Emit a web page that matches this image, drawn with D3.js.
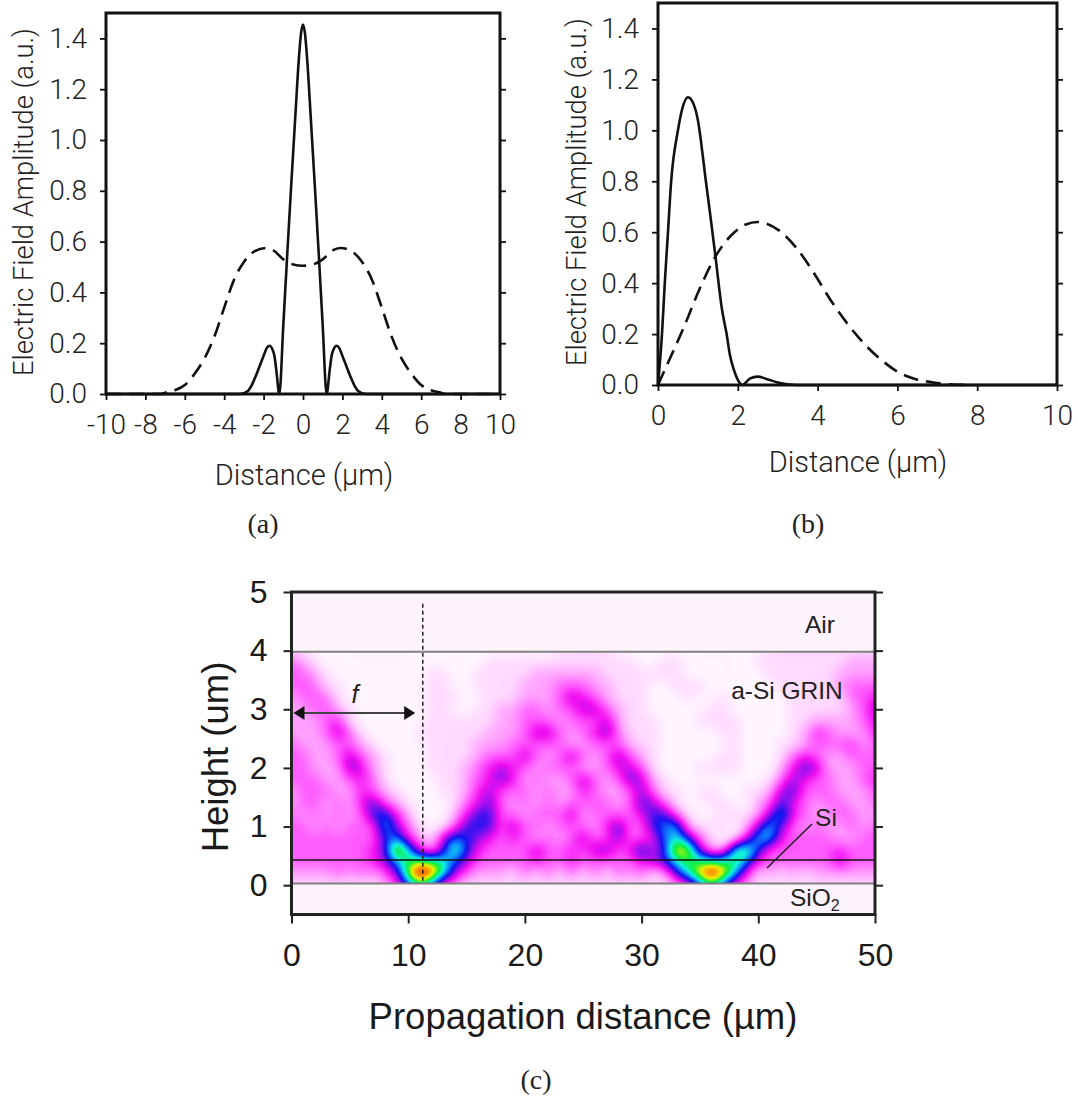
<!DOCTYPE html>
<html><head><meta charset="utf-8">
<script src="https://cdn.jsdelivr.net/npm/d3@7"></script>
<style>html,body{margin:0;background:#fff}svg{display:block}</style></head>
<body><div id="chart"></div>
<script>
// ---------- panel (a)
const aX =      [-10,-7.2,-7,-6.5,-6,-5.5,-5,-4.5,-4,-3.5,-3,-2.5,-1.9,-1.5,-1,-0.5,0,0.5,1,1.5,1.9,2.5,3,3.5,4,4.5,5,5.5,6,6.5,7,7.2,10];
const aDashed = [0,0,0.005,0.015,0.035,0.08,0.14,0.226,0.34,0.45,0.52,0.56,0.575,0.565,0.53,0.51,0.505,0.51,0.53,0.565,0.575,0.56,0.52,0.45,0.34,0.226,0.14,0.08,0.035,0.015,0.005,0,0];
const aSolidX = [-10,-3.2,-2.8,-2.6,-2.4,-2.2,-2,-1.85,-1.7,-1.55,-1.45,-1.35,-1.2,-1,-0.8,-0.6,-0.4,-0.2,-0.1,0,0.1,0.2,0.4,0.6,0.8,1,1.2,1.35,1.45,1.55,1.7,1.85,2,2.2,2.4,2.6,2.8,3.2,10];
const aSolid =  [0,0,0.012,0.035,0.07,0.11,0.15,0.18,0.19,0.175,0.15,0.09,0,0.27,0.55,0.82,1.08,1.33,1.42,1.455,1.42,1.33,1.08,0.82,0.55,0.27,0,0.09,0.15,0.175,0.19,0.18,0.15,0.11,0.07,0.035,0.012,0,0];
// ---------- panel (b)
const bDashedX = [0,0.2,0.63,1.05,1.44,1.83,2.2,2.5,3.03,3.46,3.89,4.32,4.75,5.18,5.6,6.03,6.46,6.9,7.3,7.8];
const bDashed =  [0,0.07,0.22,0.38,0.505,0.587,0.63,0.64,0.607,0.54,0.444,0.335,0.24,0.16,0.098,0.05,0.023,0.01,0.003,0];
const bSolidX = [0,0.1,0.17,0.25,0.33,0.5,0.6,0.75,0.9,1,1.04,1.2,1.3,1.44,1.6,1.72,1.8,1.9,2,2.12,2.2,2.3,2.5,2.7,3,3.3,3.6,10];
const bSolid =  [0,0.2,0.4,0.6,0.8,1,1.08,1.13,1.1,1.04,1,0.8,0.68,0.505,0.3,0.2,0.12,0.06,0.02,0,0.01,0.025,0.033,0.025,0.01,0.002,0,0];
const abYTicks = [0,0.2,0.4,0.6,0.8,1,1.2,1.4];
const aXTicks = [-10,-8,-6,-4,-2,0,2,4,6,8,10];
const bXTicks = [0,2,4,6,8,10];
// ---------- panel (c): intensity level per µm (columns) per 0.2 µm of height (rows, Y=4.0 down to 0)
const heatHeights = [4,3.8,3.6,3.4,3.2,3,2.8,2.6,2.4,2.2,2,1.8,1.6,1.4,1.2,1,0.8,0.6,0.4,0.2,0];
const heatLeft = [ // x = 0..16
[1,1,0,0,0,0,0,0,0,0,0,0,0,0,0,0,0],
[3,2,1,0,0,0,0,0,0,0,0,0,0,0,0,0,0],
[3,3,2,1,0,0,0,0,0,0,0,0,1,1,0,0,1],
[3,3,3,1,1,0,0,0,0,0,0,0,1,1,0,0,1],
[2,3,3,3,1,0,0,0,0,0,0,0,1,1,1,0,0],
[2,2,3,3,2,1,0,0,0,0,0,0,1,1,0,0,1],
[2,2,2,3,4,1,0,0,0,0,0,0,1,1,1,1,1],
[2,2,2,3,5,3,1,0,0,0,0,1,1,1,1,1,1],
[3,2,2,2,3,3,2,1,0,0,0,0,1,1,1,1,2],
[3,3,2,2,3,5,3,2,1,0,0,0,1,1,1,1,2],
[3,3,2,2,2,5.5,4.5,2,1,0,0,0,1,1,1,2,3],
[3,3,3,2,2,3,4,3,1,0,0,0,0,1,1,2,3],
[2,3,3,3,2,2,4,3,2,1,0,0,0,1,1,2,4],
[2,3,3,2,3,2,4,6,3,2,1,0,0,0,1,3,4],
[3,2,3,2,3,2,3,6,7,4,2,0,0,0,2,4,6],
[3,3,2,3,2,3,3,3,8,5,3,1,0,1,3,6,6],
[3,3,3,3,3,3,3,3,6,7,4,2,1,5,7,6,5],
[3,3,3,3,3,3,3,4,5,12,8,4,2,5,10,6,4],
[3,3,3,3,3,3,3,4,5,7,9,9.5,9.5,9,6,5,3],
[2,2,2,2,3,2,3,2,3,5,10,14,12,8.5,5,3,2],
[1,1,1,1,1,1,1,1,2,3,6,8,6,3,2,1,1]];
const heatMiddle = [ // x = 17..33
[0,0,0,0,0,0,1,1,1,1,1,0,0,0,0,0,0],
[1,1,1,1,1,1,1,1,1,1,1,1,1,0,0,1,1],
[1,1,1,1,2,2,2,2,2,2,1,1,1,1,1,1,1],
[1,1,1,2,2,2,3,3,3,2,2,1,1,1,0,0,1],
[1,1,1,2,2,2,3,5,4,3,2,1,1,1,0,0,0],
[1,2,2,3,3,2,3,3,5,5,3,2,1,1,0,0,0],
[1,2,2,3,3,3,2,3,3,3,5,2,1,1,1,0,0],
[2,2,2,3,5,5,3,2,3,4,5.5,3,1,1,1,0,0],
[2,2,3,3,3,3,3,2,2,3,3,3,2,1,1,0,0],
[3,3,3,5,3,2,3,5,3,2,3,5.5,3,2,1,0,0],
[4,5,4,3,2,3,3,3,2,2,3,4,5,3,1,0,0],
[4,5.5,4,2,3,2,2,3,5,3,2,3,5.5,5,2,1,0],
[5,3,3,3,2,3,2,2,4,3,2,2,3,5,3,1,1],
[5.5,3,2,3,2,3,2,3,3,3,3,2,3,6,5,3,1],
[6,3,3,2,3,3,3,5,2,3,3,3,3,4,6,6,3],
[6,3,5,3,3,2,3,3,3,2,4,6,3,3,6,7,8],
[4,3,4,3,2,3,2,3,5,3,3,5.5,3,3,4,7,8],
[3,3,3,3,5,3,3,4,3,5,5.5,3,4,7,4,6,11.5],
[3,3,3,3,4,3,3,4,3,3,3,3,3,4,5,6,8],
[2,2,1,3,1,3,1,3,1,3,1,3,2,3,1,2,6],
[1,1,1,1,1,1,1,1,1,1,1,1,1,1,1,1,2]];
const heatRight = [ // x = 34..50
[0,0,0,0,0,0,0,1,1,1,1,1,1,1,1,1,1],
[0,0,0,0,0,0,1,1,1,1,1,1,1,1,2,2,2],
[0,0,0,0,0,0,0,1,1,1,1,1,1,2,2,2,2],
[1,1,0,0,0,0,0,0,1,1,1,1,1,2,3,3,3],
[1,0,0,1,0,0,0,0,0,1,1,1,1,1,3,3,4],
[0,0,1,1,0,0,0,0,0,1,1,1,1,1,2,3,5],
[0,1,1,1,1,0,0,0,0,1,1,2,2,2,2,3,4],
[0,0,0,1,1,0,0,0,0,1,2,4,3,2,2,2,4],
[0,0,0,0,1,0,0,0,1,1,2,3,3,3,4,2,3],
[0,0,0,1,1,0,0,0,1,3,4,3,2,2,3,3,3],
[0,1,1,1,1,0,0,0,2,4,6,5,2,2,2,3,3],
[0,0,0,0,0,0,0,1,3,5,4,3,3,2,2,3,4],
[0,1,1,0,0,1,1,2,5,6,3,3,3,2,2,2,3],
[0,0,1,1,0,0,2,3,6,4,3,2,3,3,2,2,3],
[1,0,0,1,1,1,2,5,8,4,3,2,2,3,3,2,2],
[2,1,1,1,0,2,5,8,5,3,2,3,2,2,3,2,3],
[6,3,1,0,1,4,8,8,4,3,3,3,3,2,2,3,3],
[10.5,5,2,2,9,10,6,3,3,3,3,3,3,4,3,3,3],
[9,9,9,9,9,7,4,3,3,3,3,3,3,5,3,3,3],
[8.5,11,13.5,11,8,4,1,2,1,2,1,2,2,2,2,2,2],
[3,6,8,6,3,2,1,1,1,1,1,1,1,1,1,1,1]];
const heatLevels = [0,1,2,3,4,5,6,7,8,9,10,11,12];
const heatColors = ["#fff6ff","#ffd8ff","#ffa0ff","#ff58ff","#f010f0","#8e10ee","#1414f0","#1080ff","#10f0e0","#10f040","#e8f000","#ff8000","#e01010"];
const cXTicks = [0,10,20,30,40,50];
const cYTicks = [0,1,2,3,4,5];
const layerLines = [3.98,0.03];

const W = 1078, H = 1099, lightFont = "Roboto, 'Liberation Sans', sans-serif", arial = "'Liberation Sans', Arial, sans-serif";
const svg = d3.select("#chart").append("svg").attr("width",W).attr("height",H).attr("viewBox",[0,0,W,H]);

function panel(o){
  const g = svg.append("g");
  const x = d3.scaleLinear().domain(o.xd).range([o.l,o.r]);
  const y = d3.scaleLinear().domain([0,1.5]).range([o.b,o.t]);
  const line = d3.line().x(d=>x(d[0])).y(d=>y(d[1])).curve(d3.curveMonotoneX);
  g.append("path").attr("d",line(d3.zip(o.dX,o.dY))).attr("fill","none").attr("stroke","#111").attr("stroke-width",2.6).attr("stroke-dasharray","15 8");
  g.append("path").attr("d",line(d3.zip(o.sX,o.sY))).attr("fill","none").attr("stroke","#111").attr("stroke-width",2.6);
  g.append("rect").attr("x",o.l).attr("y",o.t).attr("width",o.r-o.l).attr("height",o.b-o.t).attr("fill","none").attr("stroke","#111").attr("stroke-width",3);
  const style = s=>{ s.select(".domain").remove(); s.selectAll("line").attr("stroke","#111").attr("stroke-width",1.8);
    s.selectAll("text").attr("font-family",lightFont).attr("font-weight",300).attr("font-size",28).attr("fill","#222"); };
  g.append("g").attr("transform",`translate(${o.l},0)`).call(d3.axisLeft(y).tickValues(abYTicks).tickFormat(d3.format(".1f")).tickSize(6).tickPadding(13)).call(style);
  g.append("g").attr("transform",`translate(${o.r},0)`).call(d3.axisRight(y).tickValues(abYTicks).tickFormat("").tickSize(6)).call(style);
  g.append("g").attr("transform",`translate(0,${o.b})`).call(d3.axisBottom(x).tickValues(o.ticks).tickFormat(d=>String(d)).tickSize(6).tickPadding(14)).call(style);
  g.append("text").attr("x",o.xlx).attr("y",o.xly).attr("text-anchor","middle").attr("font-family",lightFont).attr("font-weight",300).attr("font-size",29).attr("fill","#222").text("Distance (µm)");
  g.append("text").attr("transform",`translate(${o.ylx},${o.yly}) rotate(-90)`).attr("text-anchor","middle").attr("font-family",lightFont).attr("font-weight",300).attr("font-size",27.4).attr("fill","#222").text("Electric Field Amplitude (a.u.)");
  g.append("text").attr("x",o.capx).attr("y",533).attr("text-anchor","middle").attr("font-family","'Liberation Serif',serif").attr("font-size",28).attr("fill","#222").text(o.cap);
}
panel({l:106,r:500,t:13,b:394,xd:[-10,10],dX:aX,dY:aDashed,sX:aSolidX,sY:aSolid,ticks:aXTicks,xlx:304,xly:485,ylx:33,yly:202,capx:263,cap:"(a)"});
panel({l:658,r:1057,t:3,b:385,xd:[0,10],dX:bDashedX,dY:bDashed,sX:bSolidX,sY:bSolid,ticks:bXTicks,xlx:858,xly:472,ylx:586,yly:192,capx:808,cap:"(b)"});

// ---------- panel (c)
const cx = d3.scaleLinear().domain([0,50]).range([291.5,875]);
const cy = d3.scaleLinear().domain([-0.5,5]).range([914.5,592]);
const c = svg.append("g");
const defs = svg.append("defs");
defs.append("clipPath").attr("id","heatClip").append("rect").attr("x",cx(0)).attr("y",cy(3.98)).attr("width",cx(50)-cx(0)).attr("height",cy(0.03)-cy(3.98));
c.append("rect").attr("x",cx(0)).attr("y",cy(5)).attr("width",cx(50)-cx(0)).attr("height",cy(-0.5)-cy(5)).attr("fill","#fdf3fd");
const nx = heatLeft[0].length+heatMiddle[0].length+heatRight[0].length, ny = heatHeights.length;
const rows = heatHeights.map((h,i)=>[...heatLeft[i],...heatMiddle[i],...heatRight[i]]);
// display resampling of the read grid (image-style smoothing), then colour-mapped through contour bands
const s = 4, gw = nx*s, gh = ny*s, grid = new Float64Array(gw*gh);
for(let j=0;j<gh;j++) for(let i=0;i<gw;i++) grid[j*gw+i] = rows[Math.floor(j/s)][Math.floor(i/s)];
d3.blur2({data:grid,width:gw,height:gh},1.6);
const color = d3.scaleLinear().domain(heatLevels).range(heatColors).interpolate(d3.interpolateRgb).clamp(true);
const thresholds = d3.range(0,13.01,0.1);
const contours = d3.contours().size([gw,gh]).thresholds(thresholds).smooth(true)(grid);
const proj = d3.geoTransform({point(px,py){ this.stream.point(cx(px/s-0.5), cy(4-(py/s-0.5)*0.2)); }});
const gp = d3.geoPath(proj);
c.append("g").attr("clip-path","url(#heatClip)")
 .selectAll("path").data(contours).join("path").attr("d",gp).attr("fill",d=>color(d.value));
// layer lines
c.selectAll(".layer").data(layerLines).join("line").attr("x1",cx(0)).attr("x2",cx(50)).attr("y1",d=>cy(d)).attr("y2",d=>cy(d)).attr("stroke","#808080").attr("stroke-width",2);
c.append("line").attr("x1",cx(0)).attr("x2",cx(50)).attr("y1",cy(0.43)).attr("y2",cy(0.43)).attr("stroke","#111").attr("stroke-width",1.6);
c.append("line").attr("x1",cx(11.25)).attr("x2",cx(11.25)).attr("y1",cy(4.8)).attr("y2",cy(0.03)).attr("stroke","#222").attr("stroke-width",1.5).attr("stroke-dasharray","4 3");
// arrow f
const ay = 713, ax0 = cx(0)+2, ax1 = cx(10.6);
c.append("line").attr("x1",ax0+8).attr("x2",ax1-8).attr("y1",ay).attr("y2",ay).attr("stroke","#444").attr("stroke-width",2);
c.append("path").attr("d",`M${ax0},${ay}l11,-7v14z`).attr("fill","#111");
c.append("path").attr("d",`M${ax1},${ay}l-11,-7v14z`).attr("fill","#111");
c.append("text").attr("x",355).attr("y",703).attr("text-anchor","middle").attr("font-family",arial).attr("font-style","italic").attr("font-size",25).attr("fill","#222").text("f");
// frame and axes
c.append("rect").attr("x",cx(0)).attr("y",cy(5)).attr("width",cx(50)-cx(0)).attr("height",cy(-0.5)-cy(5)).attr("fill","none").attr("stroke","#222").attr("stroke-width",3);
const cstyle = st=>{ st.select(".domain").remove(); st.selectAll("line").attr("stroke","#222").attr("stroke-width",2);
  st.selectAll("text").attr("font-family",arial).attr("font-size",32).attr("fill","#1a1a1a"); };
c.append("g").attr("transform",`translate(${cx(0)},0)`).call(d3.axisLeft(cy).tickValues(cYTicks).tickFormat(d3.format("d")).tickSize(8).tickPadding(16)).call(cstyle);
c.append("g").attr("transform",`translate(${cx(50)},0)`).call(d3.axisRight(cy).tickValues(cYTicks).tickFormat("").tickSize(8)).call(cstyle);
c.append("g").attr("transform",`translate(0,${cy(-0.5)})`).call(d3.axisBottom(cx).tickValues(cXTicks).tickFormat(d3.format("d")).tickSize(9).tickPadding(20)).call(cstyle);
c.append("text").attr("x",583).attr("y",1029).attr("text-anchor","middle").attr("font-family",arial).attr("font-size",36.5).attr("fill","#1a1a1a").text("Propagation distance (µm)");
c.append("text").attr("transform",`translate(228,757) rotate(-90)`).attr("text-anchor","middle").attr("font-family",arial).attr("font-size",36.5).attr("fill","#1a1a1a").text("Height (um)");
const note = (t,x,y,a="middle")=>c.append("text").attr("x",x).attr("y",y).attr("text-anchor",a).attr("font-family",arial).attr("font-size",24.5).attr("fill","#222").text(t);
note("Air",820,633); note("a-Si GRIN",787,699); note("Si",826,826);
const sio = note("SiO",790,906,"start"); sio.append("tspan").attr("font-size",16).attr("dy",5).text("2");
c.append("line").attr("x1",767).attr("y1",868).attr("x2",812).attr("y2",824).attr("stroke","#222").attr("stroke-width",1.6);
c.append("text").attr("x",536).attr("y",1089).attr("text-anchor","middle").attr("font-family","'Liberation Serif',serif").attr("font-size",28).attr("fill","#222").text("(c)");
</script></body></html>
